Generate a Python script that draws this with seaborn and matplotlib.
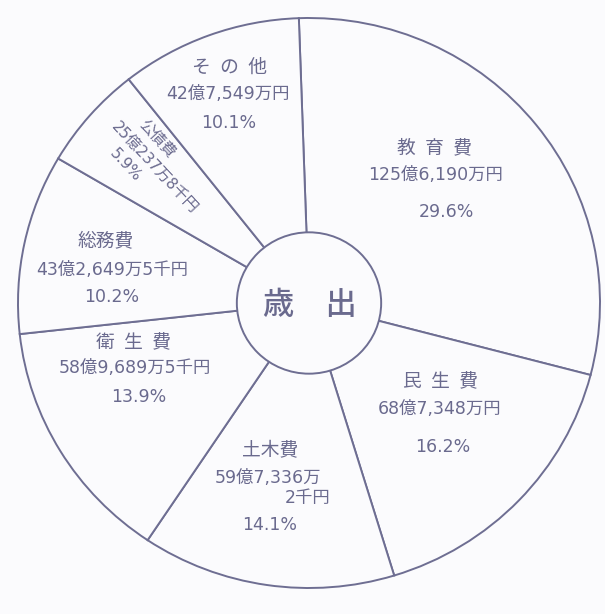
import numpy as np
import seaborn as sns
import matplotlib.pyplot as plt

# 歳出 内訳 (単位: 万円)
names = ['教\u2002育\u2002費', '民\u2002生\u2002費', '土木費', '衛\u2002生\u2002費', '総務費', '公債費', 'そ\u2002の\u2002他']
amounts = [1256190, 687348, 597336.2, 589689.5, 432649.5, 250237.8, 427549]
amount_labels = ['125億6,190万円', '68億7,348万円', '59億7,336万', '58億9,689万5千円',
                 '43億2,649万5千円', '25億237万8千円', '42億7,549万円']
pct_labels = ['29.6%', '16.2%', '14.1%', '13.9%', '10.2%', '5.9%', '10.1%']
center_label = '歳\u3000出'

sns.set_theme(style='white')
plt.rcParams['font.family'] = ['Noto Sans CJK JP', 'DejaVu Sans']
num_font = ['DejaVu Sans', 'Noto Sans CJK JP']   # wider digits, CJK falls back

line_col = '#6e6e92'
text_col = '#6a6a8e'
bg = '#fbfbfd'

W, H = 605, 614
cx, cy = 309, 303       # pie centre in pixels
rx, ry = 291, 285       # scanned circle is a touch elliptical


def to_data(px, py):
    return (px - cx) / rx, (cy - py) / ry


# label layout: amount line centre (px), name / pct offsets (px, up positive)
amt_xy = [(436, 175), (440, 409), (268, 478), (135, 368), (112, 270), None, (228, 94)]
name_off = [(-2, 27), (0, 27), (2, 27), (-2, 25), (-6, 29), None, (1, 27)]
pct_off = [(10, -37), (3, -38), (2, -47), (4, -29), (0, -27), None, (1, -29)]

fig = plt.figure(figsize=(W / 100, H / 100), dpi=100, facecolor=bg)
ax = fig.add_axes([0, 0, 1, 1])
ax.set_facecolor(bg)

wedges, _ = ax.pie(amounts, startangle=92, counterclock=False, radius=1.0,
                   colors=[bg] * len(amounts),
                   wedgeprops=dict(edgecolor=line_col, linewidth=1.4))

# center circle
ax.add_patch(plt.Circle((0, 0), 0.248, facecolor=bg, edgecolor=line_col, lw=1.4, zorder=3))
ax.text(*to_data(309.5, 305), center_label, ha='center', va='center', fontsize=22.5,
        color=text_col, fontweight='medium', zorder=4)

fs = 12.5
for i in range(len(names)):
    if amt_xy[i] is None:
        continue
    x, y = to_data(*amt_xy[i])
    ax.text(x, y, amount_labels[i], ha='center', va='center', fontsize=fs,
            color=text_col, family=num_font)
    ax.annotate(names[i], (x, y), xytext=name_off[i], textcoords='offset pixels',
                ha='center', va='center', fontsize=13.5, color=text_col)
    ax.annotate(pct_labels[i], (x, y), xytext=pct_off[i], textcoords='offset pixels',
                ha='center', va='center', fontsize=fs, color=text_col, family=num_font)
    if i == 2:
        # second line of the 土木費 amount, right aligned
        ax.annotate('2千円', (x, y), xytext=(62, -20), textcoords='offset pixels',
                    ha='right', va='center', fontsize=fs, color=text_col, family=num_font)

# 公債費: narrow slice, text set along the radius
k = names.index('公債費')
rot = -47
u = np.array([np.cos(np.deg2rad(rot)), np.sin(np.deg2rad(rot))])
v = np.array([-u[1], u[0]])
base = np.array(to_data(155, 168))
scale = np.array([1 / rx, 1 / ry])
for txt, du, dv, fam in [(names[k], -20, 21, None), (amount_labels[k], 0, 0, num_font),
                         (pct_labels[k], -22, -20, num_font)]:
    p = base + (du * u + dv * v) * scale
    ax.text(p[0], p[1], txt, ha='center', va='center', rotation=rot,
            rotation_mode='anchor', fontsize=11, color=text_col, family=fam)

ax.set_xlim(-cx / rx, (W - cx) / rx)
ax.set_ylim(-(H - cy) / ry, cy / ry)
ax.set_aspect('auto')
ax.axis('off')

plt.savefig('out.png', dpi=100, facecolor=fig.get_facecolor())
